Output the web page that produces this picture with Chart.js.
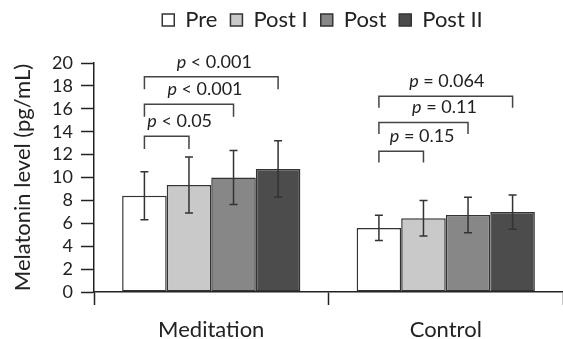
<!DOCTYPE html>
<html>
<head>
<meta charset="utf-8">
<script src="https://cdn.jsdelivr.net/npm/chart.js@4.4.0/dist/chart.umd.min.js"></script>
<style>
  html, body { margin: 0; padding: 0; background: #fff; }
  #wrap { width: 563px; height: 339px; }
</style>
</head>
<body>
<div id="wrap"><canvas id="chart"></canvas></div>
<script>
// groups and series
const categories = ["Meditation", "Control"];
const seriesNames = ["Pre", "Post I", "Post", "Post II"];

// mean melatonin level (pg/mL), one value per group
const preMean = [8.4, 5.6];
const postIMean = [9.35, 6.45];
const postMean = [10.0, 6.72];
const postIIMean = [10.75, 6.98];

// standard deviations (error bars)
const preSD = [2.1, 1.1];
const postISD = [2.45, 1.55];
const postSD = [2.35, 1.55];
const postIISD = [2.45, 1.5];

// y axis ticks
const yTicks = [0, 2, 4, 6, 8, 10, 12, 14, 16, 18, 20];

// comparison brackets
const compGroup = [0, 0, 0, 1, 1, 1];
const compFrom = [0, 0, 0, 0, 0, 0];
const compTo = [3, 2, 1, 3, 2, 1];
const compLevel = [18.8, 16.4, 13.6, 17.1, 14.8, 12.3];
const compLegEnd = [17.7, 15.3, 12.5, 16.1, 13.8, 11.3];
const compText = ["< 0.001", "< 0.001", "< 0.05", "= 0.064", "= 0.11", "= 0.15"];

// layout only: horizontal nudge of each p label, px
const compLabelShift = [3, 16, 13, 1, 21, 21];

const fillColors = ["#ffffff", "#c9c9c9", "#878787", "#4b4c4b"];
const FONT = "Lato";

const means = [preMean, postIMean, postMean, postIIMean];
const sds = [preSD, postISD, postSD, postIISD];

const datasets = seriesNames.map((name, i) => ({
  label: name,
  data: means[i],
  backgroundColor: fillColors[i],
  borderColor: "#333",
  borderWidth: 1.5,
  borderSkipped: false,
  categoryPercentage: 0.76,
  barPercentage: 1.0,
}));

// extra room under the legend, and nudge it a little up / left
const legendGap = {
  id: "legendGap",
  beforeInit(chart) {
    const fit = chart.legend.fit;
    chart.legend.fit = function () {
      fit.call(this);
      this.height += 18;
    };
    const draw = chart.legend.draw;
    chart.legend.draw = function () {
      this.ctx.save();
      this.ctx.translate(-6, -4);
      draw.call(this);
      this.ctx.restore();
    };
  },
};

const errorBars = {
  id: "errorBars",
  afterDatasetsDraw(chart) {
    const ctx = chart.ctx;
    const y = chart.scales.y;
    ctx.save();
    ctx.strokeStyle = "#333";
    ctx.lineWidth = 1.5;
    for (let d = 0; d < means.length; d++) {
      const meta = chart.getDatasetMeta(d);
      meta.data.forEach((bar, i) => {
        const top = y.getPixelForValue(means[d][i] + sds[d][i]);
        const bottom = y.getPixelForValue(means[d][i] - sds[d][i]);
        const x = bar.x;
        ctx.beginPath();
        ctx.moveTo(x, top);
        ctx.lineTo(x, bottom);
        ctx.moveTo(x - 4, top);
        ctx.lineTo(x + 4, top);
        ctx.moveTo(x - 4, bottom);
        ctx.lineTo(x + 4, bottom);
        ctx.stroke();
      });
    }
    ctx.restore();
  },
};

const brackets = {
  id: "brackets",
  afterDatasetsDraw(chart) {
    const ctx = chart.ctx;
    const y = chart.scales.y;
    ctx.save();
    ctx.strokeStyle = "#444";
    ctx.lineWidth = 1.5;
    for (let i = 0; i < compText.length; i++) {
      const x1 = chart.getDatasetMeta(compFrom[i]).data[compGroup[i]].x;
      const x2 = chart.getDatasetMeta(compTo[i]).data[compGroup[i]].x;
      const yl = y.getPixelForValue(compLevel[i]);
      const yb = y.getPixelForValue(compLegEnd[i]);
      ctx.beginPath();
      ctx.moveTo(x1, yb);
      ctx.lineTo(x1, yl);
      ctx.lineTo(x2, yl);
      ctx.lineTo(x2, yb);
      ctx.stroke();

      // label: italic p + rest
      const rest = " " + compText[i];
      ctx.font = "italic 18px " + FONT;
      const wp = ctx.measureText("p").width;
      ctx.font = "18px " + FONT;
      const wr = ctx.measureText(rest).width;
      const cx = (x1 + x2) / 2 + compLabelShift[i];
      const left = cx - (wp + wr) / 2;
      const ty = yl - 15;
      ctx.fillStyle = "#222";
      ctx.textBaseline = "middle";
      ctx.textAlign = "left";
      ctx.font = "italic 18px " + FONT;
      ctx.fillText("p", left, ty);
      ctx.font = "18px " + FONT;
      ctx.fillText(rest, left + wp, ty);
    }
    ctx.restore();
  },
};

new Chart(document.getElementById("chart"), {
  type: "bar",
  data: { labels: categories, datasets: datasets },
  plugins: [legendGap, errorBars, brackets],
  options: {
    responsive: true,
    maintainAspectRatio: false,
    animation: false,
    layout: { padding: { top: 0, left: 0, right: 0, bottom: 0 } },
    plugins: {
      tooltip: { enabled: false },
      legend: {
        position: "top",
        fullSize: false,
        labels: {
          boxWidth: 12,
          boxHeight: 12,
          padding: 13,
          color: "#222",
          font: { family: FONT, size: 22 },
        },
      },
    },
    scales: {
      x: {
        offset: true,
        grid: {
          offset: true,
          drawOnChartArea: false,
          tickLength: 13,
          tickWidth: 1.5,
          tickColor: (c) => (c.index >= categories.length ? "rgba(0,0,0,0)" : "#222"),
        },
        border: { color: "#222", width: 1.5 },
        ticks: {
          color: "#222",
          padding: 12,
          font: { family: FONT, size: 22 },
        },
        afterFit(scale) {
          scale.height = 47;
        },
      },
      y: {
        min: 0,
        max: 20,
        afterBuildTicks(scale) {
          scale.ticks = yTicks.map((v) => ({ value: v }));
        },
        grid: {
          drawOnChartArea: false,
          tickLength: 13,
          tickWidth: 1.5,
          tickColor: "#222",
        },
        border: { color: "#222", width: 1.5 },
        ticks: {
          autoSkip: false,
          color: "#222",
          padding: 8,
          font: { family: FONT, size: 18 },
        },
        title: {
          display: true,
          text: "Melatonin level (pg/mL)",
          color: "#222",
          padding: { top: 10, bottom: 0 },
          font: { family: FONT, size: 22 },
        },
        afterFit(scale) {
          scale.width = 94;
        },
      },
    },
  },
});
</script>
</body>
</html>
